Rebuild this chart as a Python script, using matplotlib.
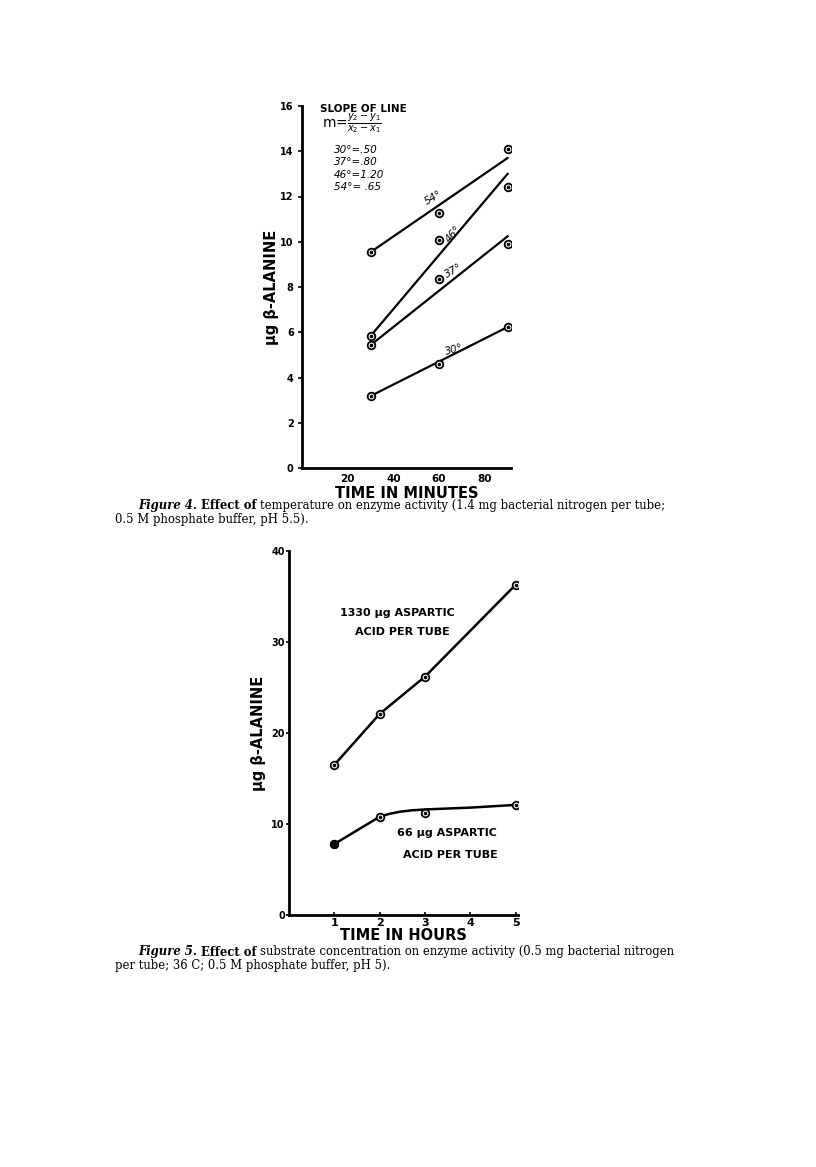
import matplotlib
matplotlib.use("Agg")
import matplotlib.pyplot as plt

W, H = 816, 1167

# ---------------- Figure 4 data ----------------
minutes = [30, 60, 90]
temp_labels = ["54°", "46°", "37°", "30°"]
beta_54 = [9.54, 11.26, 14.08]
beta_46 = [5.83, 10.07, 12.4]
beta_37 = [5.43, 8.34, 9.89]
beta_30 = [3.18, 4.59, 6.23]
fit_x = [30, 90]
fit_54 = [9.54, 13.7]
fit_46 = [5.83, 13.0]
fit_37 = [5.43, 10.24]
fit_30 = [3.18, 6.23]
slope_text = ["30°=.50", "37°=.80", "46°=1.20", "54°= .65"]
fig4_yticks = [0, 2, 4, 6, 8, 10, 12, 14, 16]
fig4_xticks = [20, 40, 60, 80]

# ---------------- Figure 5 data ----------------
hours = [1, 2, 3, 5]
high_asp = [16.5, 22.1, 26.2, 36.3]
low_asp = [7.8, 10.8, 11.2, 12.1]
low_curve_x = [1, 2, 2.2, 2.45, 2.7, 3, 3.5, 4, 4.5, 5]
low_curve_y = [7.8, 10.8, 11.1, 11.35, 11.5, 11.6, 11.7, 11.8, 11.95, 12.1]
fig5_yticks = [0, 10, 20, 30, 40]
fig5_xticks = [1, 2, 3, 4, 5]

fig = plt.figure(figsize=(W / 100, H / 100), dpi=100)
fig.patch.set_facecolor("white")

hand = dict(family="DejaVu Sans", weight="bold")


def px_axes(left, right, bottom, top):
    return fig.add_axes([left / W, 1 - bottom / H, (right - left) / W, (bottom - top) / H])


def style_axes(ax):
    for s in ["top", "right"]:
        ax.spines[s].set_visible(False)
    for s in ["left", "bottom"]:
        ax.spines[s].set_linewidth(2.0)
    ax.set_facecolor("none")


def draw_markers(ax, x, y, filled_first=False):
    ax.plot(x, y, linestyle="none", marker="o", ms=5.5, mfc="white", mec="black", mew=1.3, zorder=5)
    ax.plot(x, y, linestyle="none", marker="o", ms=1.6, mfc="black", mec="black", zorder=6)
    if filled_first:
        ax.plot(x[:1], y[:1], linestyle="none", marker="o", ms=5.5, mfc="black", mec="black", zorder=7)


# ---------------- Figure 4 ----------------
ax1 = px_axes(302, 511, 468, 106)
style_axes(ax1)
ax1.set_xlim(0, 91.5)
ax1.set_ylim(0, 16)
ax1.set_yticks(fig4_yticks)
ax1.set_yticklabels([str(v) for v in fig4_yticks], fontsize=7, **hand)
ax1.set_xticks(fig4_xticks)
ax1.set_xticklabels([str(v) for v in fig4_xticks], fontsize=7.5, **hand)
ax1.tick_params(axis="y", length=3, width=1.2, pad=3)
ax1.tick_params(axis="x", length=0, pad=4)

for ys, fy in [(beta_54, fit_54), (beta_46, fit_46), (beta_37, fit_37), (beta_30, fit_30)]:
    ax1.plot(fit_x, fy, color="black", lw=1.6, zorder=3)
    draw_markers(ax1, minutes, ys)

label_pos = [(57.7, 11.95, 30), (66.3, 10.35, 50), (66.5, 8.7, 30), (66.5, 5.25, 15)]
for lab, (lx, ly, rot) in zip(temp_labels, label_pos):
    ax1.text(lx, ly, lab, fontsize=7.5, style="italic", rotation=rot, ha="center", va="center",
             family="DejaVu Sans")

fig.text(320 / W, 1 - 109 / H, "SLOPE OF LINE", fontsize=7.5, ha="left", va="center", **hand)
fig.text(322 / W, 1 - 124 / H, r"m=$\frac{y_2-y_1}{x_2-x_1}$", fontsize=10, ha="left", va="center",
         family="DejaVu Sans")
for i, s in enumerate(slope_text):
    fig.text(334 / W, 1 - (150 + i * 12.3) / H, s, fontsize=7.5, ha="left", va="center",
             style="italic", family="DejaVu Sans")

ax1.set_ylabel("μg β-ALANINE", fontsize=10.5, labelpad=1, **hand)
ax1.set_xlabel("TIME IN MINUTES", fontsize=10.5, labelpad=2, **hand)

# ---------------- Figure 5 ----------------
ax2 = px_axes(289, 518, 915, 551)
style_axes(ax2)
ax2.set_xlim(0, 5.05)
ax2.set_ylim(0, 40)
ax2.set_yticks(fig5_yticks)
ax2.set_yticklabels([str(v) for v in fig5_yticks], fontsize=7, **hand)
ax2.set_xticks(fig5_xticks)
ax2.set_xticklabels([str(v) for v in fig5_xticks], fontsize=8, **hand)
ax2.tick_params(axis="y", length=2, width=1.2, pad=1)
ax2.tick_params(axis="x", length=2, width=1.2, pad=2, direction="in")

ax2.plot(hours, high_asp, color="black", lw=1.8, zorder=3)
draw_markers(ax2, hours, high_asp)
ax2.plot(low_curve_x, low_curve_y, color="black", lw=1.8, zorder=3)
draw_markers(ax2, hours, low_asp, filled_first=True)

ax2.text(2.4, 33.2, "1330 μg ASPARTIC", fontsize=8, ha="center", va="center", **hand)
ax2.text(2.51, 31.1, "ACID PER TUBE", fontsize=8, ha="center", va="center", **hand)
ax2.text(3.48, 9.0, "66 μg ASPARTIC", fontsize=8, ha="center", va="center", **hand)
ax2.text(3.55, 6.6, "ACID PER TUBE", fontsize=8, ha="center", va="center", **hand)

ax2.set_ylabel("μg β-ALANINE", fontsize=10.5, labelpad=4, **hand)
ax2.set_xlabel("TIME IN HOURS", fontsize=10.5, labelpad=0, **hand)

# ---------------- Captions ----------------
renderer = fig.canvas.get_renderer()
cap_font = "DejaVu Serif"
cap_size = 8.4


def caption_line(x0, y, parts):
    x = x0
    for txt, kw in parts:
        t = fig.text(x / W, 1 - y / H, txt, ha="left", va="center", fontsize=cap_size,
                     family=cap_font, **kw)
        x += t.get_window_extent(renderer).width + 4


caption_line(138, 506, [("Figure 4.", dict(weight="bold", style="italic")),
                        ("Effect of", dict(weight="bold")),
                        ("temperature on enzyme activity (1.4 mg bacterial nitrogen per tube;", {})])
caption_line(115, 519, [("0.5 M phosphate buffer, pH 5.5).", {})])
caption_line(138, 952, [("Figure 5.", dict(weight="bold", style="italic")),
                        ("Effect of", dict(weight="bold")),
                        ("substrate concentration on enzyme activity (0.5 mg bacterial nitrogen", {})])
caption_line(115, 965, [("per tube; 36 C; 0.5 M phosphate buffer, pH 5).", {})])

fig.savefig("out.png", dpi=100, facecolor="white")
